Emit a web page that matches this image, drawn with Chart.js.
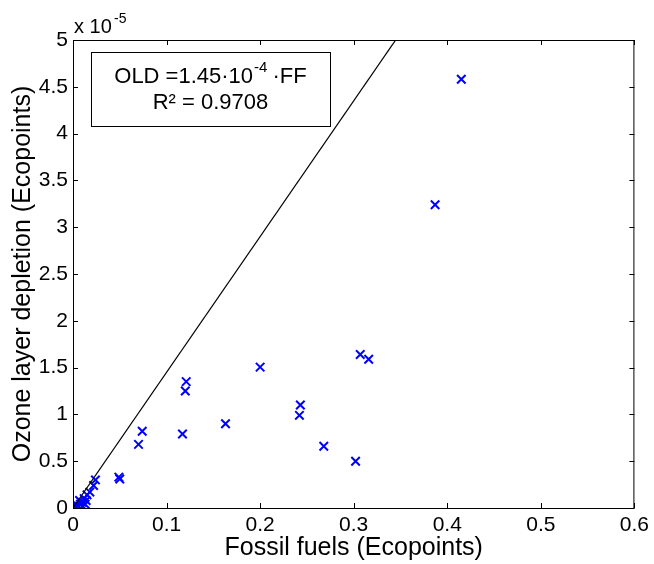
<!DOCTYPE html>
<html>
<head>
<meta charset="utf-8">
<script src="https://cdn.jsdelivr.net/npm/chart.js@4"></script>
<style>
  html, body { margin: 0; padding: 0; background: #fff; }
  canvas { display: block; }
</style>
</head>
<body>
<canvas id="fitChart" width="654" height="564"></canvas>
<script>
// Fossil fuels (x) vs ozone layer depletion (y, in units of 10^-5)
const fossilFuels = [
    0.415, 0.387, 0.200, 0.121, 0.120, 0.117, 0.163, 0.243, 0.242, 0.268,
    0.302, 0.307, 0.316, 0.070, 0.074, 0.049, 0.050, 0.024, 0.022, 0.018,
    0.015, 0.012, 0.014, 0.010, 0.008, 0.006, 0.004, 0.003, 0.002, 0.001,
    0.010, 0.013, 0.007
];
const ozoneDepletion = [
    4.58, 3.24, 1.505, 1.35, 1.25, 0.79, 0.90, 1.10, 0.99, 0.66,
    0.50, 1.64, 1.59, 0.68, 0.82, 0.33, 0.31, 0.30, 0.24, 0.17,
    0.14, 0.10, 0.08, 0.06, 0.04, 0.02, 0.03, 0.01, 0.02, 0.005,
    0.02, 0.04, 0.08
];

const fitSlope = 14.5; // 1.45e-4, expressed in 1e-5 units
const fitRange = [0, 0.6];

const xTickLabels = ['0', '0.1', '0.2', '0.3', '0.4', '0.5', '0.6'];
const yTickLabels = ['0', '0.5', '1', '1.5', '2', '2.5', '3', '3.5', '4', '4.5', '5'];

const FONT = '"Liberation Sans", Arial, sans-serif';

// MATLAB-ish box: border on all sides, ticks pointing inward, plus text annotations
const boxPlugin = {
    id: 'matlabBox',
    afterDraw(chart) {
        const { ctx, chartArea: a, scales } = chart;
        const tick = 5;
        ctx.save();
        ctx.strokeStyle = '#000';
        ctx.lineWidth = 1;
        ctx.strokeRect(a.left + 0.5, a.top + 0.5, a.right - a.left - 1, a.bottom - a.top);

        ctx.beginPath();
        scales.x.ticks.forEach(t => {
            const px = Math.round(scales.x.getPixelForValue(t.value)) + 0.5;
            ctx.moveTo(px, a.bottom); ctx.lineTo(px, a.bottom - tick);
            ctx.moveTo(px, a.top); ctx.lineTo(px, a.top + tick);
        });
        scales.y.ticks.forEach(t => {
            const py = Math.round(scales.y.getPixelForValue(t.value)) + 0.5;
            ctx.moveTo(a.left, py); ctx.lineTo(a.left + tick, py);
            ctx.moveTo(a.right, py); ctx.lineTo(a.right - tick, py);
        });
        ctx.stroke();

        // exponent above the y axis
        ctx.fillStyle = '#000';
        ctx.textBaseline = 'alphabetic';
        ctx.textAlign = 'left';
        ctx.font = '20px ' + FONT;
        ctx.fillText('x 10', a.left + 1, a.top - 7);
        ctx.font = '14px ' + FONT;
        ctx.fillText('-5', a.left + 41, a.top - 17);

        // equation box
        const bx = 91, by = 52, bw = 239, bh = 74;
        ctx.fillStyle = '#fff';
        ctx.fillRect(bx, by, bw, bh);
        ctx.strokeRect(bx + 0.5, by + 0.5, bw, bh);
        ctx.fillStyle = '#000';

        const cx = bx + bw / 2;
        ctx.font = '22px ' + FONT;
        const p1 = 'OLD =1.45\u00b710';
        const p3 = ' \u00b7FF';
        const w1 = ctx.measureText(p1).width;
        const w3 = ctx.measureText(p3).width;
        ctx.font = '15px ' + FONT;
        const p2 = '-4';
        const w2 = ctx.measureText(p2).width;
        let x = cx - (w1 + w2 + w3) / 2;
        ctx.font = '22px ' + FONT;
        ctx.fillText(p1, x, 83);
        x += w1;
        ctx.font = '15px ' + FONT;
        ctx.fillText(p2, x + 1, 72);
        x += w2;
        ctx.font = '22px ' + FONT;
        ctx.fillText(p3, x, 83);

        ctx.textAlign = 'center';
        ctx.fillText('R\u00b2 = 0.9708', cx, 109);
        ctx.restore();
    }
};

const points = fossilFuels.map((v, i) => ({ x: v, y: ozoneDepletion[i] }));
const fitLine = fitRange.map(v => ({ x: v, y: v * fitSlope }));

const ctx = document.getElementById('fitChart').getContext('2d');
new Chart(ctx, {
    type: 'scatter',
    data: {
        datasets: [
            {
                type: 'line',
                data: fitLine,
                borderColor: '#000',
                borderWidth: 1.2,
                pointRadius: 0,
                fill: false
            },
            {
                data: points,
                pointStyle: 'crossRot',
                pointRadius: 6,
                pointBorderWidth: 2,
                borderColor: '#0000ff',
                backgroundColor: '#0000ff'
            }
        ]
    },
    options: {
        responsive: false,
        devicePixelRatio: 1,
        animation: false,
        layout: { padding: { top: 40, right: 18, left: 0, bottom: 0 } },
        plugins: { legend: { display: false }, tooltip: { enabled: false } },
        scales: {
            x: {
                type: 'linear',
                min: 0, max: 0.6,
                grid: { display: false, drawTicks: false },
                border: { display: false },
                ticks: {
                    stepSize: 0.1,
                    padding: 5,
                    color: '#000',
                    font: { family: FONT, size: 21 },
                    callback: (v, i) => xTickLabels[i]
                },
                title: {
                    display: true,
                    text: 'Fossil fuels (Ecopoints)',
                    color: '#000',
                    font: { family: FONT, size: 25 },
                    padding: { top: 0, bottom: 1 }
                },
                afterFit: s => { s.height = 56; }
            },
            y: {
                type: 'linear',
                min: 0, max: 5,
                grid: { display: false, drawTicks: false },
                border: { display: false },
                ticks: {
                    stepSize: 0.5,
                    padding: 5,
                    color: '#000',
                    font: { family: FONT, size: 21 },
                    callback: (v, i) => yTickLabels[i]
                },
                title: {
                    display: true,
                    text: 'Ozone layer depletion (Ecopoints)',
                    color: '#000',
                    font: { family: FONT, size: 25 },
                    padding: { top: 8, bottom: 0 }
                },
                afterFit: s => { s.width = 73; }
            }
        }
    },
    plugins: [boxPlugin]
});
</script>
</body>
</html>
